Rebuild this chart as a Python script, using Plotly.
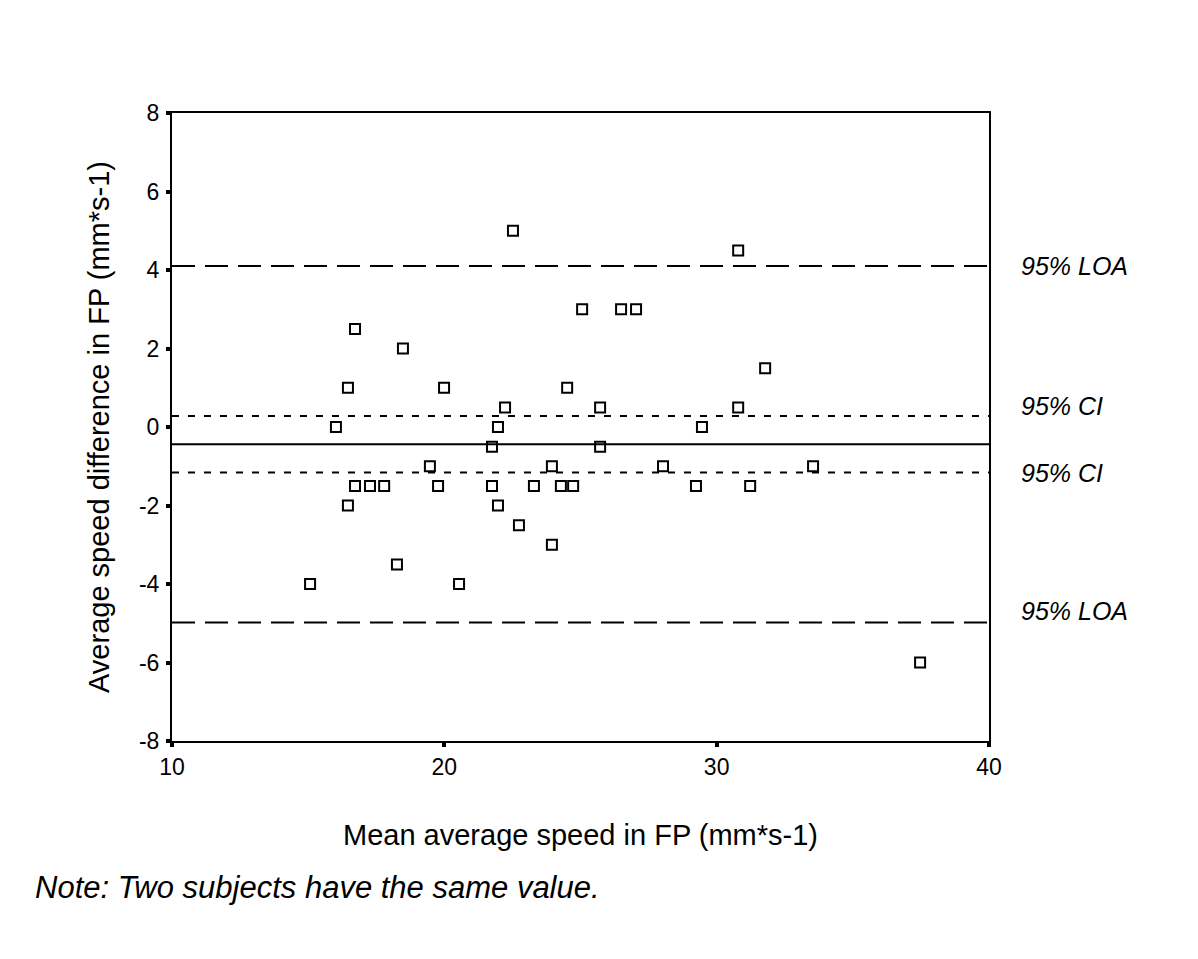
import plotly.graph_objects as go

# средние значения скорости (ось X) и разности (ось Y)
mean_speed = [15.07, 16.02, 16.46, 16.46, 16.72, 16.72, 17.27, 17.79, 18.26, 18.48,
              19.47, 19.77, 19.99, 20.54, 21.75, 21.75, 21.97, 21.97, 22.23, 22.52,
              22.74, 23.29, 23.95, 23.95, 24.28, 24.51, 24.73, 25.06, 25.72, 25.72,
              26.49, 27.04, 28.03, 29.24, 29.46, 30.79, 30.79, 31.23, 31.78, 33.54,
              37.47]
speed_diff = [-4, 0, 1, -2, 2.5, -1.5, -1.5, -1.5, -3.5, 2,
              -1, -1.5, 1, -4, -0.5, -1.5, 0, -2, 0.5, 5,
              -2.5, -1.5, -1, -3, -1.5, 1, -1.5, 3, 0.5, -0.5,
              3, 3, -1, -1.5, 0, 4.5, 0.5, -1.5, 1.5, -1,
              -6]

mean_diff = -0.44
loa_upper = 4.10
loa_lower = -4.98
ci_upper = 0.28
ci_lower = -1.16

x_ticks = [10, 20, 30, 40]
x_tick_text = [str(v) for v in x_ticks]
y_ticks = [8, 6, 4, 2, 0, -2, -4, -6, -8]
y_tick_text = [str(v) for v in y_ticks]  # обычный дефис вместо "−"

FONT = "Liberation Sans, Arial, sans-serif"
TICK_FONT = dict(family="Liberation Sans", size=23, color="black")

fig = go.Figure()

fig.add_trace(go.Scatter(
    x=mean_speed, y=speed_diff, mode="markers",
    marker=dict(symbol="square-open", size=10, color="black",
                line=dict(color="black", width=2)),
    showlegend=False, hoverinfo="x+y"
))

# линии: среднее, доверительные интервалы, пределы согласия
lines = [
    (mean_diff, "solid"),
    (ci_upper, "7px,9px"),
    (ci_lower, "7px,9px"),
    (loa_upper, "23px,10px"),
    (loa_lower, "23px,10px"),
]
for val, dash in lines:
    fig.add_trace(go.Scatter(
        x=[x_ticks[0], x_ticks[-1]], y=[val, val], mode="lines",
        line=dict(color="black", width=2, dash=dash),
        showlegend=False, hoverinfo="skip"
    ))

labels = [
    (loa_upper, "95% LOA", 0),
    (ci_upper, "95% CI", 10),
    (ci_lower, "95% CI", 0),
    (loa_lower, "95% LOA", 11),
]
for val, txt, shift in labels:
    fig.add_annotation(
        x=1.037, xref="paper", y=val, yref="y", yshift=shift,
        text="<i>" + txt + "</i>", showarrow=False, xanchor="left",
        font=dict(family=FONT, size=25, color="black")
    )

fig.add_annotation(
    x=-0.17, xref="paper", y=-0.234, yref="paper",
    text="<i>Note: Two subjects have the same value.</i>",
    showarrow=False, xanchor="left", yanchor="middle",
    font=dict(family=FONT, size=31, color="black")
)

fig.update_xaxes(
    range=[10, 40], tickvals=x_ticks, ticktext=x_tick_text, ticks="outside",
    ticklen=4, tickwidth=4, ticklabelstandoff=0,
    tickcolor="black", showline=True, linecolor="black", linewidth=2, mirror=True,
    showgrid=False, zeroline=False, tickfont=TICK_FONT,
    title=dict(text="Mean average speed in FP (mm*s-1)", standoff=46,
               font=dict(family=FONT, size=29, color="black"))
)
fig.update_yaxes(
    range=[-8, 8], tickvals=y_ticks, ticktext=y_tick_text, ticks="outside",
    ticklen=4, tickwidth=4, ticklabelstandoff=2,
    tickcolor="black", showline=True, linecolor="black", linewidth=2, mirror=True,
    showgrid=False, zeroline=False, tickfont=TICK_FONT,
    title=dict(text="Average speed difference in FP (mm*s-1)", standoff=21,
               font=dict(family=FONT, size=29, color="black"))
)

fig.update_layout(
    width=1198, height=959,
    margin=dict(l=164, r=217, t=105, b=226),
    plot_bgcolor="white", paper_bgcolor="white",
    font=dict(family=FONT, color="black")
)

fig.write_html("out.html")
